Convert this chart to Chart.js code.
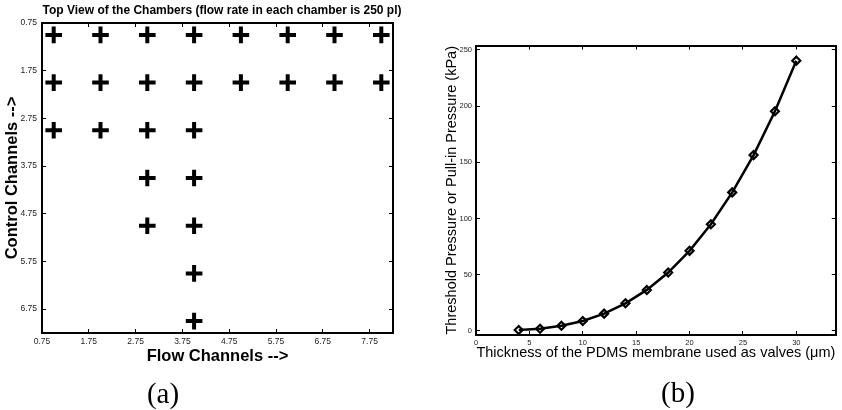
<!DOCTYPE html>
<html>
<head>
<meta charset="utf-8">
<script src="https://cdn.jsdelivr.net/npm/chart.js@4"></script>
<style>
    body { margin: 0; background: #fff; width: 842px; height: 410px; position: relative; overflow: hidden; }
    canvas { position: absolute; top: 0; }
    #chartA { left: 0; }
    #chartB { left: 440px; }
    .caption { position: absolute; width: 60px; height: 30px; line-height: 30px; text-align: center;
        font-family: "Liberation Serif", "Times New Roman", serif; font-size: 29px; color: #000; }
</style>
</head>
<body>
<canvas id="chartA" width="444" height="410"></canvas>
<canvas id="chartB" width="402" height="410"></canvas>
<div class="caption" style="left:133px; top:378px;">(a)</div>
<div class="caption" style="left:648px; top:377px;">(b)</div>

<script>
// --- DATA ---
// chamber positions (flow channel, control channel)
const chamberX = [1, 2, 3, 4, 5, 6, 7, 8, 1, 2, 3, 4, 5, 6, 7, 8, 1, 2, 3, 4, 3, 4, 3, 4, 4, 4];
const chamberY = [1, 1, 1, 1, 1, 1, 1, 1, 2, 2, 2, 2, 2, 2, 2, 2, 3, 3, 3, 3, 4, 4, 5, 5, 6, 7];
const flowTicks = [0.75, 1.75, 2.75, 3.75, 4.75, 5.75, 6.75, 7.75];
const controlTicks = [0.75, 1.75, 2.75, 3.75, 4.75, 5.75, 6.75];

// membrane thickness (um) vs pressure (kPa)
const thickness = [4, 6, 8, 10, 12, 14, 16, 18, 20, 22, 24, 26, 28, 30];
const pressure = [0.9, 1.9, 4.6, 8.9, 15.4, 24.6, 36.5, 52, 71.3, 95, 123.3, 156.5, 195.5, 240.5];
const thicknessTicks = [0, 5, 10, 15, 20, 25, 30];
const pressureTicks = [0, 50, 100, 150, 200, 250];

Chart.defaults.font.family = "'Liberation Sans', Arial, Helvetica, sans-serif";
Chart.defaults.color = "#000";

// --- HELPERS ---
const fixedTicks = (vals) => (scale) => { scale.ticks = vals.map(v => ({ value: v })); };
const plainLabel = (v) => String(v);
const grid = { drawOnChartArea: false, drawTicks: true, tickLength: -4, color: "#000", lineWidth: 1 };
const border = { color: "#000", width: 2 };

function axis(pos, min, max, vals, size, extra) {
    const horizontal = pos === "top" || pos === "bottom";
    return Object.assign({
        type: "linear",
        position: pos,
        min, max,
        grid, border,
        afterBuildTicks: fixedTicks(vals),
        afterFit: (s) => { if (horizontal) s.height = size; else s.width = size; },
        ticks: { display: false }
    }, extra);
}

// --- CHART A: chambers ---
new Chart(document.getElementById("chartA"), {
    type: "scatter",
    data: {
        datasets: [{
            data: chamberX.map((x, i) => ({ x, y: chamberY[i] })),
            pointStyle: "cross",
            pointRadius: 8.3,
            borderWidth: 4,
            borderColor: "#000",
            backgroundColor: "#000"
        }]
    },
    options: {
        responsive: false,
        animation: false,
        events: [],
        layout: { padding: 0 },
        plugins: {
            legend: { display: false },
            tooltip: { enabled: false },
            title: {
                display: true,
                text: "Top View of the Chambers (flow rate in each chamber is 250 pl)",
                font: { size: 12, weight: "bold" },
                color: "#000",
                padding: { top: 3, bottom: 5.6 }
            }
        },
        scales: {
            x: axis("bottom", 0.75, 8.25, flowTicks, 77, {
                ticks: { font: { size: 8.5 }, color: "#222", padding: 8, maxRotation: 0, autoSkip: false, callback: plainLabel },
                title: { display: true, text: "Flow Channels -->", font: { size: 16.5, weight: "bold" }, padding: { top: 0, bottom: 44 } }
            }),
            x2: axis("top", 0.75, 8.25, flowTicks, 0),
            y: axis("left", 0.75, 7.25, controlTicks, 42, {
                reverse: true,
                ticks: { font: { size: 8.5 }, color: "#222", padding: 9, autoSkip: false, callback: plainLabel },
                title: { display: true, text: "Control Channels -->", font: { size: 16.5, weight: "bold" }, padding: { top: 2.6, bottom: 0 } }
            }),
            y2: axis("right", 0.75, 7.25, controlTicks, 51, { reverse: true })
        }
    }
});

// --- CHART B: pressure curve ---
new Chart(document.getElementById("chartB"), {
    type: "scatter",
    data: {
        datasets: [{
            data: thickness.map((x, i) => ({ x, y: pressure[i] })),
            showLine: true,
            borderColor: "#000",
            borderWidth: 2.5,
            pointStyle: "rectRot",
            pointRadius: 4,
            pointBorderWidth: 2.2,
            pointBorderColor: "#000",
            pointBackgroundColor: "rgba(0,0,0,0)"
        }]
    },
    options: {
        responsive: false,
        animation: false,
        events: [],
        layout: { padding: { top: 45.5, right: 3, left: 0, bottom: 0 } },
        plugins: {
            legend: { display: false },
            tooltip: { enabled: false }
        },
        scales: {
            x: axis("bottom", 0, 33.7, thicknessTicks, 75, {
                ticks: { font: { size: 7.5 }, color: "#222", padding: 7.6, maxRotation: 0, autoSkip: false, callback: plainLabel },
                title: { display: true, text: "Thickness of the PDMS membrane used as valves (μm)", font: { size: 14.5 }, padding: { top: 0, bottom: 48.3 } }
            }),
            x2: axis("top", 0, 33.7, thicknessTicks, 0),
            y: axis("left", -3.6, 254, pressureTicks, 36, {
                ticks: { font: { size: 7.5 }, color: "#222", padding: 8, autoSkip: false, callback: plainLabel },
                title: { display: true, text: "Threshold Pressure or Pull-in Pressure (kPa)", font: { size: 14.5 }, padding: { top: 3.3, bottom: 0 } }
            }),
            y2: axis("right", -3.6, 254, pressureTicks, 0)
        }
    }
});
</script>
</body>
</html>
